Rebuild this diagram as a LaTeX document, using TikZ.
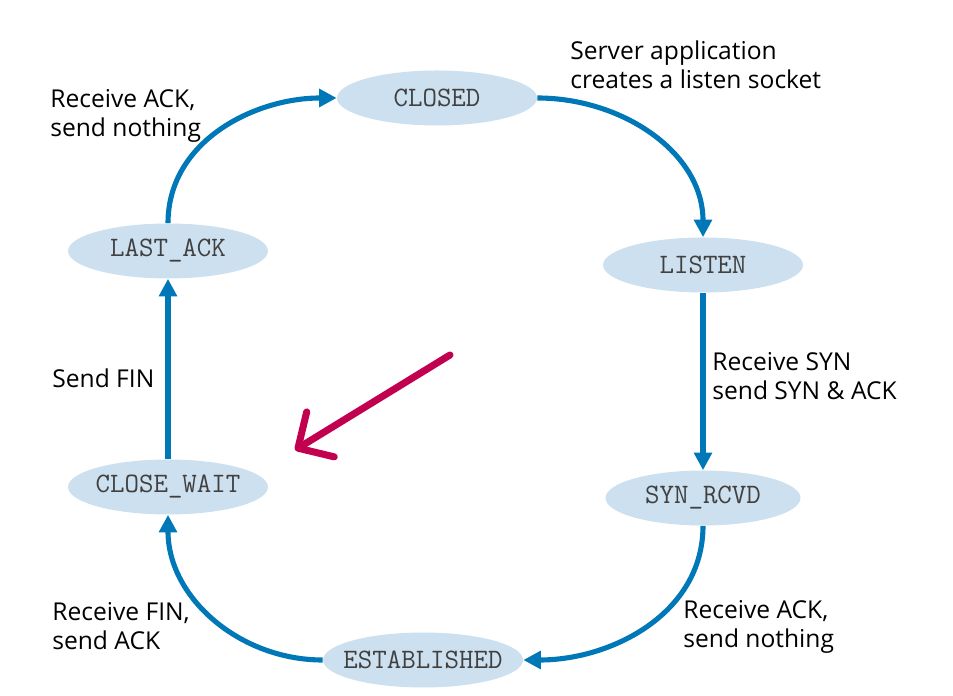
\documentclass[tikz,border=0pt]{standalone}
\usepackage{fontspec}
\setmainfont{Open Sans}
\usepackage{xcolor}
\usetikzlibrary{shapes.geometric}
\usetikzlibrary{arrows.meta}
\definecolor{tcpblue}{RGB}{0,119,182}
\definecolor{statefill}{RGB}{205,224,239}
\definecolor{pointred}{RGB}{194,0,80}

\begin{document}
\begin{tikzpicture}[
  state/.style={ellipse, fill=statefill, minimum width=4cm, minimum height=1.1cm, inner xsep=-9pt, inner ysep=0pt, font=\fontsize{16}{18}\selectfont\ttfamily, text=black!75},
  flow/.style={-{Triangle[length=10pt,width=10pt]}, line width=2.9pt, tcpblue},
  lbl/.style={anchor=west, align=left, inner sep=0pt, font=\fontsize{14}{16.5}\selectfont}
]
            \useasboundingbox (0,0) rectangle (19.06,13.92);
            \node[state] (A) at (8.74,11.96){CLOSED};
            \node[state] (B) at (14.06,8.62){LISTEN};
            \node[state, minimum width=3.9cm] (C) at (14.06,3.96){SYN\_RCVD};
            \node[state] (D) at (8.46,0.72){ESTABLISHED};
            \node[state] (E) at (3.36,4.18){CLOSE\_WAIT};
            \node[state] (F) at (3.36,8.9){LAST\_ACK};
            \draw [flow](A) to[out=0, in=90](B);
            \draw [flow](B) -- (C);
            \draw [flow](C) to[out=-90, in=0](D);
            \draw [flow](D) to[out=180, in=-90](E);
            \draw [flow](E) -- (F);
            \draw [flow](F) to[out=90, in=180](A);
            \node[lbl] (G) at (11.4,12.62){Server application\\creates a listen socket};
            \node[lbl] (H) at (14.24,6.39){Receive SYN\\send SYN \& ACK};
            \node[lbl] (I) at (13.66,1.39){Receive ACK,\\send nothing};
            \node[lbl] (J) at (1.04,1.39){Receive FIN,\\send ACK};
            \node[lbl] (K) at (1.04,6.36){Send FIN};
            \node[lbl] (L) at (1.0,11.6){Receive ACK,\\send nothing};
            % pointer into the picture
            \coordinate (P) at (9.0,6.82);
            \coordinate (Q) at (5.9,4.92);
            \draw [-{Straight Barb[length=15pt,width=30pt,round]}, line width=4pt, line cap=round, pointred](P) -- (Q);
\end{tikzpicture}
\end{document}
